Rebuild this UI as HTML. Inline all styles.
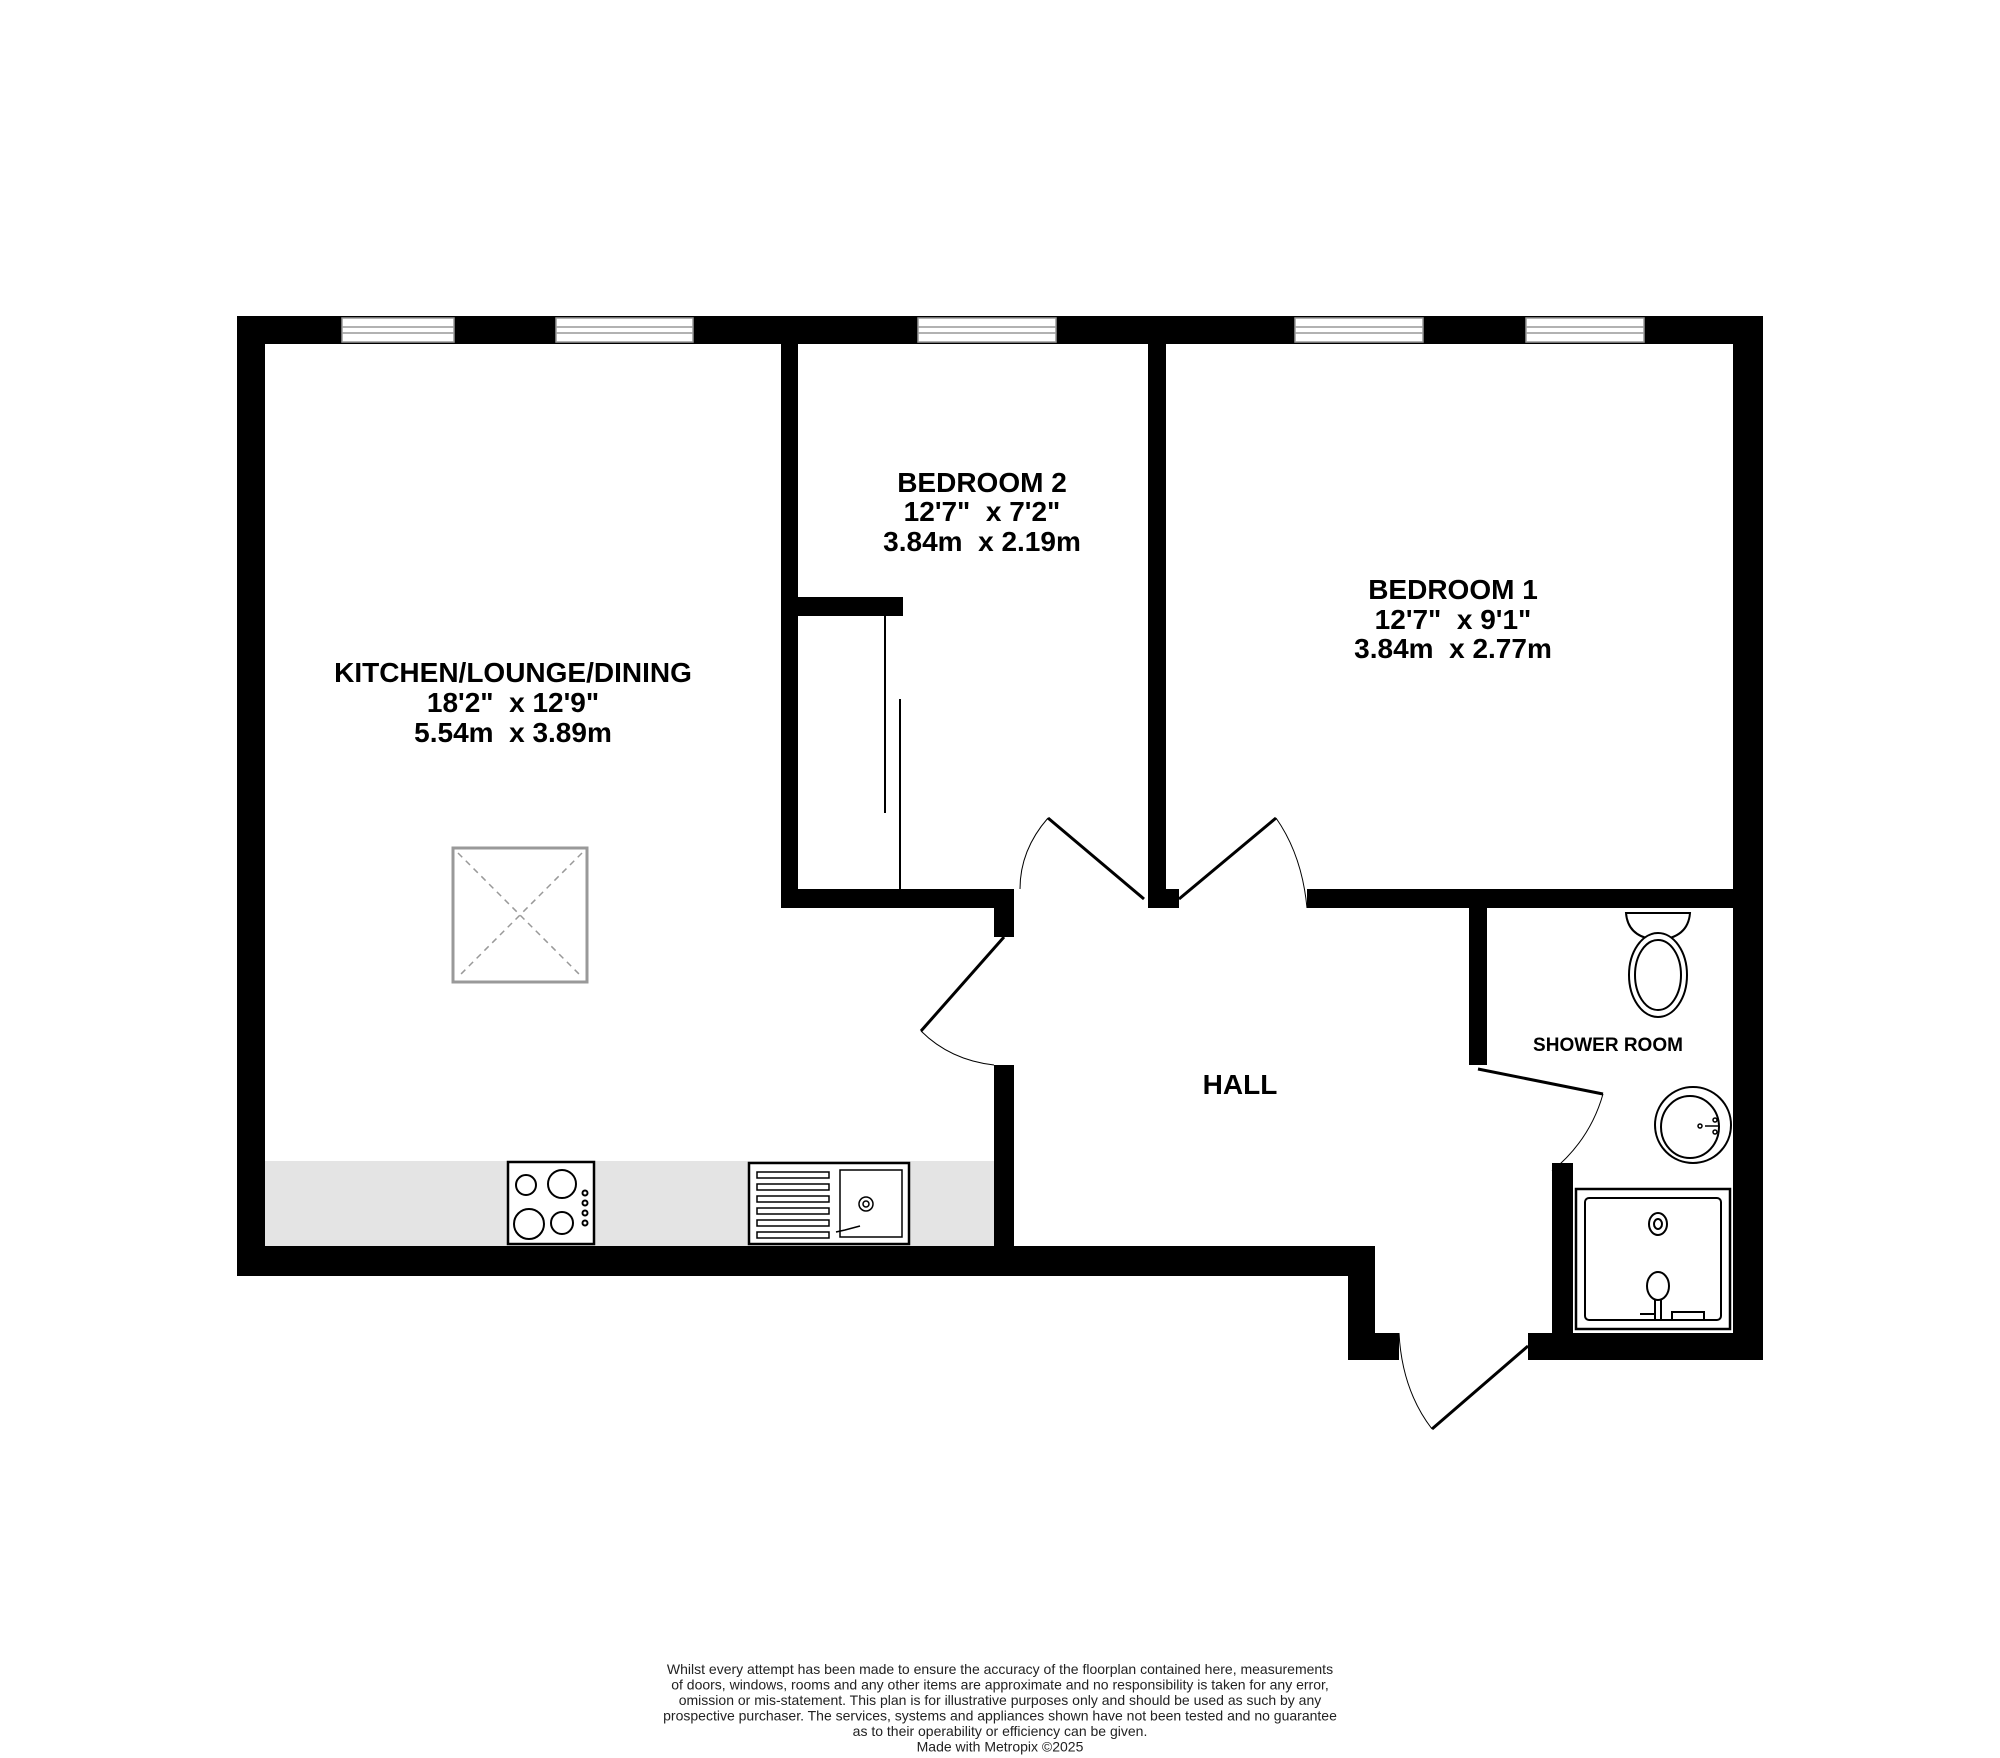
<!DOCTYPE html>
<html><head><meta charset="utf-8"><style>
html,body{margin:0;padding:0;background:#fff}
svg{display:block}
text{font-family:"Liberation Sans",Arial,sans-serif;white-space:pre}
</style></head><body>
<svg width="2000" height="1758" viewBox="0 0 2000 1758" xmlns="http://www.w3.org/2000/svg" xml:space="preserve">
<rect width="2000" height="1758" fill="#fff"/>
<rect x="265" y="1161" width="729" height="85" fill="#e4e4e4"/>
<g fill="#000">
<rect x="237" y="316" width="1526" height="28"/>
<rect x="237" y="316" width="28" height="960"/>
<rect x="1733" y="316" width="30" height="1044"/>
<rect x="237" y="1246" width="1138" height="30"/>
<rect x="1348" y="1246" width="27" height="114"/>
<rect x="1348" y="1333" width="51" height="27"/>
<rect x="1528" y="1333" width="235" height="27"/>
<rect x="994" y="1065" width="20" height="211"/>
<rect x="994" y="908" width="20" height="29"/>
<rect x="781" y="344" width="17" height="564"/>
<rect x="781" y="889" width="233" height="19"/>
<rect x="798" y="597" width="105" height="19"/>
<rect x="1148" y="344" width="18" height="564"/>
<rect x="1148" y="889" width="31" height="19"/>
<rect x="1307" y="889" width="456" height="19"/>
<rect x="1469" y="908" width="18" height="157"/>
<rect x="1552" y="1163" width="21" height="197"/>
</g>
<g fill="#fff" stroke="#999" stroke-width="1.5">
<rect x="342" y="318" width="112" height="24"/>
<rect x="556" y="318" width="137" height="24"/>
<rect x="918" y="318" width="138" height="24"/>
<rect x="1295" y="318" width="128" height="24"/>
<rect x="1526" y="318" width="118" height="24"/>
</g>
<g stroke="#999" stroke-width="1.5">
<line x1="342" y1="327" x2="454" y2="327"/><line x1="556" y1="327" x2="693" y2="327"/>
<line x1="918" y1="327" x2="1056" y2="327"/><line x1="1295" y1="327" x2="1423" y2="327"/>
<line x1="1526" y1="327" x2="1644" y2="327"/>
<line x1="342" y1="333" x2="454" y2="333"/><line x1="556" y1="333" x2="693" y2="333"/>
<line x1="918" y1="333" x2="1056" y2="333"/><line x1="1295" y1="333" x2="1423" y2="333"/>
<line x1="1526" y1="333" x2="1644" y2="333"/>
</g>
<line x1="885" y1="616" x2="885" y2="813" stroke="#000" stroke-width="2"/>
<line x1="900" y1="699" x2="900" y2="889" stroke="#000" stroke-width="2"/>
<g fill="none" stroke="#000">
<line x1="1144" y1="899" x2="1048" y2="818" stroke-width="3"/>
<path d="M1048 818 Q1020 850 1020 889" stroke-width="1"/>
<line x1="1179" y1="899" x2="1276" y2="818" stroke-width="3"/>
<path d="M1276 818 Q1302 855 1307 908" stroke-width="1"/>
<line x1="1004" y1="937" x2="921" y2="1031" stroke-width="3"/>
<path d="M921 1031 Q950 1060 994 1065" stroke-width="1"/>
<line x1="1478" y1="1069" x2="1603" y2="1094" stroke-width="3"/>
<path d="M1603 1094 Q1590 1140 1552 1171" stroke-width="1"/>
<line x1="1528" y1="1346" x2="1432" y2="1429" stroke-width="3"/>
<path d="M1432 1429 Q1402 1390 1399 1333" stroke-width="1"/>
</g>
<rect x="453" y="848" width="134" height="134" fill="#fff" stroke="#999" stroke-width="3"/>
<g stroke="#999" stroke-width="1.5" stroke-dasharray="6,5">
<line x1="458" y1="853" x2="582" y2="977"/><line x1="582" y1="853" x2="458" y2="977"/>
</g>
<rect x="508" y="1162" width="86" height="82" fill="#fff" stroke="#000" stroke-width="2.5"/>
<g fill="none" stroke="#000" stroke-width="2">
<circle cx="526" cy="1185" r="10"/><circle cx="562" cy="1184" r="14"/>
<circle cx="529" cy="1224" r="15"/><circle cx="562" cy="1223" r="11"/>
<circle cx="585" cy="1193" r="2.5"/><circle cx="585" cy="1203" r="2.5"/><circle cx="585" cy="1213" r="2.5"/><circle cx="585" cy="1223" r="2.5"/>
</g>
<rect x="749" y="1163" width="160" height="81" fill="#fff" stroke="#000" stroke-width="2.5"/>
<rect x="840" y="1170" width="62" height="67" fill="none" stroke="#000" stroke-width="1.5"/>
<g stroke="#000" stroke-width="1.5" fill="none">
<rect x="757" y="1172" width="72" height="6"/><rect x="757" y="1184" width="72" height="6"/>
<rect x="757" y="1196" width="72" height="6"/><rect x="757" y="1208" width="72" height="6"/>
<rect x="757" y="1220" width="72" height="6"/><rect x="757" y="1232" width="72" height="6"/>
<circle cx="866" cy="1204" r="7"/><circle cx="866" cy="1204" r="3"/>
<path d="M836 1232 L845 1230 L860 1226"/>
</g>
<g fill="#fff" stroke="#000" stroke-width="2">
<path d="M1626 913 L1690 913 Q1688 938 1658 940 Q1628 938 1626 913 Z"/>
<ellipse cx="1658" cy="975" rx="29" ry="42"/>
<ellipse cx="1658" cy="975" rx="23" ry="35"/>
</g>
<g fill="#fff" stroke="#000" stroke-width="2">
<circle cx="1693" cy="1125" r="38"/>
<ellipse cx="1690" cy="1127" rx="29" ry="31"/>
</g>
<g stroke="#000" stroke-width="1.5" fill="none">
<line x1="1705" y1="1126" x2="1718" y2="1126"/><circle cx="1715" cy="1120" r="2"/><circle cx="1715" cy="1132" r="2"/>
<circle cx="1700" cy="1126" r="2"/>
</g>
<rect x="1576" y="1189" width="154" height="140" fill="#fff" stroke="#000" stroke-width="2.5"/>
<rect x="1585" y="1198" width="136" height="122" rx="4" fill="none" stroke="#000" stroke-width="2"/>
<g fill="none" stroke="#000" stroke-width="2">
<ellipse cx="1658" cy="1224" rx="9" ry="11"/><ellipse cx="1658" cy="1224" rx="4" ry="5"/>
<ellipse cx="1658" cy="1286" rx="11" ry="14"/>
<line x1="1655" y1="1300" x2="1655" y2="1320"/><line x1="1661" y1="1300" x2="1661" y2="1320"/>
<rect x="1672" y="1312" width="32" height="8"/>
<line x1="1640" y1="1314" x2="1655" y2="1314"/>
</g>
<g font-weight="bold" fill="#000" text-anchor="middle" font-size="28">
<text x="513" y="682">KITCHEN/LOUNGE/DINING</text>
<text x="513" y="712">18'2"  x 12'9"</text>
<text x="513" y="742">5.54m  x 3.89m</text>
<text x="982" y="492">BEDROOM 2</text>
<text x="982" y="521">12'7"  x 7'2"</text>
<text x="982" y="551">3.84m  x 2.19m</text>
<text x="1453" y="599">BEDROOM 1</text>
<text x="1453" y="629">12'7"  x 9'1"</text>
<text x="1453" y="658">3.84m  x 2.77m</text>
<text x="1240" y="1094">HALL</text>
<text x="1608" y="1051" font-size="19">SHOWER ROOM</text>
</g>
<g fill="#222" text-anchor="middle" font-size="14">
<text x="1000" y="1674">Whilst every attempt has been made to ensure the accuracy of the floorplan contained here, measurements</text>
<text x="1000" y="1689.5">of doors, windows, rooms and any other items are approximate and no responsibility is taken for any error,</text>
<text x="1000" y="1705">omission or mis-statement. This plan is for illustrative purposes only and should be used as such by any</text>
<text x="1000" y="1720.5">prospective purchaser. The services, systems and appliances shown have not been tested and no guarantee</text>
<text x="1000" y="1736">as to their operability or efficiency can be given.</text>
<text x="1000" y="1751.5">Made with Metropix ©2025</text>
</g>
</svg>
</body></html>
